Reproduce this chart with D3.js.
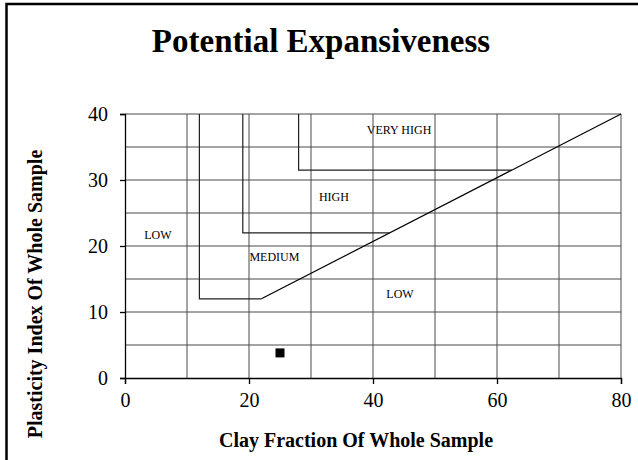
<!DOCTYPE html>
<html><head><meta charset="utf-8">
<script src="https://cdn.jsdelivr.net/npm/d3@7"></script>
<style>html,body{margin:0;padding:0;background:#fff;}svg{display:block;}</style>
</head><body>
<svg id="c" width="638" height="460"></svg>
<script>
const xTicks = [0, 20, 40, 60, 80];
const yTicks = [0, 10, 20, 30, 40];
const xGrid = [10, 20, 30, 40, 50, 60, 70, 80];
const yGrid = [5, 10, 15, 20, 25, 30, 35, 40];
const lowMediumBoundary = [[12, 40], [12, 12], [22, 12]];
const diagonalLine = [[22, 12], [80, 40]];
const mediumHighBoundary = [[19, 40], [19, 22], [42.7, 22]];
const highVeryHighBoundary = [[28, 40], [28, 31.5], [62.4, 31.5]];
const zoneNames = ["VERY HIGH", "HIGH", "LOW", "MEDIUM", "LOW"];
const zoneX = [44.2, 33.7, 5.3, 24.1, 44.35];
const zoneY = [37.6, 27.4, 21.7, 18.4, 12.8];
const sampleX = [25];
const sampleY = [3.8];

const svg = d3.select("#c");
const font = "'Liberation Serif','Times New Roman',serif";
const L = 125, R = 621, T = 114, B = 378;
const x = d3.scaleLinear().domain([0, 80]).range([L, R]);
const y = d3.scaleLinear().domain([0, 40]).range([B, T]);

// outer frame
svg.append("rect").attr("x", 6.5).attr("y", 4).attr("width", 700).attr("height", 500)
  .attr("fill", "none").attr("stroke", "#000").attr("stroke-width", 2.5);

// title
svg.append("text").attr("x", 321).attr("y", 52).attr("text-anchor", "middle")
  .attr("font-family", font).attr("font-weight", "bold").attr("font-size", 33)
  .text("Potential Expansiveness");

// grid
svg.append("g").selectAll("line").data(xGrid).join("line")
  .attr("x1", d => x(d)).attr("x2", d => x(d)).attr("y1", y(0)).attr("y2", y(40))
  .attr("stroke", "#4a4a4a").attr("stroke-width", 1);
svg.append("g").selectAll("line").data(yGrid).join("line")
  .attr("x1", x(0)).attr("x2", x(80)).attr("y1", d => y(d)).attr("y2", d => y(d))
  .attr("stroke", "#4a4a4a").attr("stroke-width", 1);

// axes
const xAxis = d3.axisBottom(x).tickValues(xTicks).tickSize(6).tickPadding(9);
const yAxis = d3.axisLeft(y).tickValues(yTicks).tickSize(5).tickPadding(12);
const gx = svg.append("g").attr("transform", `translate(0,${B})`).call(xAxis);
const gy = svg.append("g").attr("transform", `translate(${L},0)`).call(yAxis);
[gx, gy].forEach(g => {
  g.select(".domain").attr("stroke", "#000").attr("stroke-width", 1.3);
  g.selectAll(".tick line").attr("stroke", "#000").attr("stroke-width", 1.3);
  g.selectAll("text").attr("font-family", font).attr("font-size", 20).attr("fill", "#000");
});

// boundaries
const line = d3.line().x(d => x(d[0])).y(d => y(d[1]));
[lowMediumBoundary, mediumHighBoundary, highVeryHighBoundary].forEach(b => {
  svg.append("path").attr("d", line(b)).attr("fill", "none")
    .attr("stroke", "#202020").attr("stroke-width", 1.2);
});
svg.append("path").attr("d", line(diagonalLine)).attr("fill", "none")
  .attr("stroke", "#000").attr("stroke-width", 1.2);

// zone labels
svg.append("g").selectAll("text").data(zoneNames).join("text")
  .attr("x", (d, i) => x(zoneX[i])).attr("y", (d, i) => y(zoneY[i]))
  .attr("dy", "0.35em").attr("text-anchor", "middle")
  .attr("font-family", font).attr("font-size", 12).text(d => d);

// sample point
svg.append("g").selectAll("rect").data(sampleX).join("rect")
  .attr("x", (d, i) => x(d) - 4.5).attr("y", (d, i) => y(sampleY[i]) - 4.5)
  .attr("width", 9).attr("height", 9).attr("fill", "#000");

// axis titles
svg.append("text").attr("x", 356).attr("y", 447).attr("text-anchor", "middle")
  .attr("font-family", font).attr("font-weight", "bold").attr("font-size", 20)
  .text("Clay Fraction Of Whole Sample");
svg.append("text").attr("transform", `translate(42,294) rotate(-90)`)
  .attr("text-anchor", "middle")
  .attr("font-family", font).attr("font-weight", "bold").attr("font-size", 20)
  .text("Plasticity Index Of Whole Sample");
</script>
</body></html>
